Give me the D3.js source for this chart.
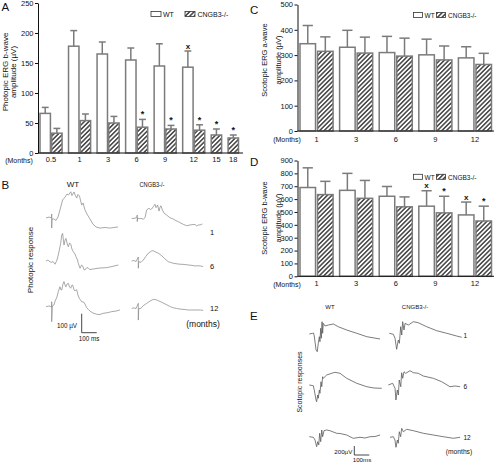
<!DOCTYPE html>
<html><head><meta charset="utf-8">
<script src="https://cdn.jsdelivr.net/npm/d3@7"></script>
<style>body{margin:0;background:#fff}svg{display:block;font-family:"Liberation Sans",Arial,sans-serif}</style>
</head><body><svg id="c" width="495" height="463"></svg>
<script>
// ---------- DATA ----------
// Panel A: photopic ERG b-wave amplitude (µV)
const aMonths = ["0.5","1","3","6","9","12","15","18"];
const aWT      = [66, 178, 165, 155, 145, 143, null, null];
const aWTErr   = [76, 204, 185, 175, 182, 170, null, null];
const aKO      = [33, 54, 50, 43, 40, 38, 30, 25];
const aKOErr   = [41, 65, 61, 56, 46, 47, 40, 30];
const aWTMarks = ["", "", "", "", "", "x", "", ""];
const aKOMarks = ["", "", "", "*", "*", "*", "*", "*"];
const aTicks   = [0, 50, 100, 150, 200, 250];

// Panel C: scotopic ERG a-wave amplitude (µV)
const cMonths = ["1","3","6","9","12"];
const cWT     = [345, 331, 310, 301, 289];
const cWTErr  = [417, 398, 374, 363, 333];
const cKO     = [315, 308, 296, 281, 263];
const cKOErr  = [372, 371, 367, 336, 307];
const cWTMarks = ["", "", "", "", ""];
const cKOMarks = ["", "", "", "", ""];
const cTicks  = [0, 100, 200, 300, 400, 500];

// Panel D: scotopic ERG b-wave amplitude (µV)
const dMonths = ["1","3","6","9","12"];
const dWT     = [690, 668, 622, 545, 477];
const dWTErr  = [843, 800, 698, 665, 577];
const dKO     = [635, 606, 540, 493, 430];
const dKOErr  = [738, 745, 617, 622, 545];
const dWTMarks = ["", "", "", "x", "x"];
const dKOMarks = ["", "", "", "*", "*"];
const dTicks  = [0, 100, 200, 300, 400, 500, 600, 700, 800, 900];

// Panel B: photopic responses, [ms, µV]
const bRows = ["1", "6", "12"];
const bWT1 = [[0,0],[20,5],[37,0],[38,21],[38,-53],[40,-5],[53,-5],[67,-13],[80,5],[93,42],[111,95],[127,110],[140,126],[150,121],[165,138],[173,118],[187,137],[197,116],[205,105],[213,124],[223,116],[238,68],[247,79],[260,42],[273,21],[293,-5],[313,-32],[333,-47],[360,-53],[393,-50],[427,-53],[453,-50],[480,-47]];
const bWT6 = [[0,0],[13,5],[27,-5],[38,-7],[47,-3],[60,-17],[73,5],[82,32],[93,74],[98,93],[105,137],[111,145],[116,110],[120,84],[127,110],[133,119],[142,89],[149,75],[157,95],[165,88],[173,63],[182,49],[193,37],[200,23],[210,5],[215,-12],[227,-38],[237,-21],[245,-26],[253,-45],[260,-47],[273,-34],[282,-38],[293,-45],[315,-42],[340,-39],[360,-37],[405,-35],[440,-29],[482,-21]];
const bWT12 = [[0,0],[20,4],[38,-2],[38,26],[38,-79],[42,4],[53,9],[63,35],[71,46],[82,79],[88,93],[93,105],[100,88],[105,88],[113,119],[120,132],[127,114],[133,105],[140,119],[149,123],[157,104],[165,97],[171,112],[178,114],[187,88],[193,83],[200,90],[205,88],[213,62],[222,44],[230,35],[238,26],[247,25],[253,23],[263,9],[271,-5],[283,-15],[293,-23],[313,-33],[338,-40],[360,-41],[380,-35],[413,-31],[438,-26],[467,-23],[493,-17]];
const bKO1 = [[0,0],[15,-1],[33,4],[37,17],[37,-17],[39,2],[49,-2],[62,0],[77,-5],[89,4],[100,44],[115,53],[125,46],[133,49],[144,61],[155,74],[162,56],[173,70],[182,38],[189,59],[195,66],[204,44],[217,26],[233,17],[255,3],[277,-4],[295,-12],[311,-18],[344,-32],[367,-39],[389,-35],[409,-33],[422,-32],[433,-40],[445,-35],[456,-35],[471,-30]];
const bKO6 = [[0,0],[15,3],[29,-3],[44,21],[44,-38],[47,-3],[62,-7],[77,5],[93,23],[111,41],[122,47],[133,53],[144,54],[155,49],[177,41],[200,28],[222,11],[244,-4],[262,-8],[277,-12],[302,-15],[322,-17],[349,-18],[378,-21],[402,-23],[422,-26],[442,-25],[456,-26],[476,-29]];
const bKO12 = [[0,0],[15,2],[29,-1],[44,26],[44,-62],[47,-1],[62,0],[77,14],[100,26],[122,38],[144,47],[167,44],[182,38],[200,32],[222,23],[242,15],[259,8],[277,3],[299,-1],[322,-4],[349,-6],[378,-9],[402,-9],[429,-9],[456,-9],[476,-11]];

// Panel E: scotopic responses, [ms, µV]
const eWT1 = [[0,0],[23,16],[28,22],[33,-44],[45,-355],[53,-393],[60,-206],[67,-60],[71,-171],[76,127],[80,-95],[85,273],[89,16],[93,238],[105,178],[127,200],[160,222],[193,162],[249,89],[316,16],[383,-60],[472,-111]];
const eWT6 = [[0,0],[27,-16],[33,-111],[45,-333],[49,-371],[56,-222],[60,-295],[67,-111],[71,-184],[78,73],[83,-38],[89,184],[93,149],[116,222],[149,260],[171,282],[205,260],[249,149],[316,38],[383,-38],[431,-67],[483,-73]];
const eWT12 = [[0,0],[27,-13],[38,-73],[49,-222],[56,-111],[63,-184],[69,75],[76,-111],[83,149],[89,0],[98,133],[116,149],[138,133],[183,75],[205,71],[249,38],[293,-36],[338,-13],[371,-29],[405,0],[438,4],[472,38]];
const eKO1 = [[0,0],[27,-22],[38,-111],[49,-355],[60,-149],[67,-222],[76,147],[83,-38],[89,258],[98,73],[105,222],[127,184],[160,258],[193,235],[249,147],[316,58],[383,0],[449,-60],[483,-89]];
const eKO6 = [[0,0],[29,38],[45,-73],[51,-333],[60,-111],[67,-222],[73,111],[83,-38],[89,273],[96,149],[105,295],[116,260],[145,318],[167,273],[200,260],[233,200],[300,149],[356,73],[411,-38],[445,-22],[478,-38]];
const eKO12 = [[0,0],[22,13],[33,-60],[40,-222],[49,-60],[55,-133],[62,124],[71,13],[78,200],[89,124],[111,178],[155,147],[222,89],[289,51],[355,13],[422,-22],[467,0]];

// ---------- DRAWING ----------
const FONT = '"Liberation Sans", Arial, sans-serif';
const svg = d3.select("#c");
const defs = svg.append("defs");
const pat = defs.append("pattern").attr("id", "hatch").attr("patternUnits", "userSpaceOnUse")
  .attr("width", 3.2).attr("height", 3.2).attr("patternTransform", "rotate(45)");
pat.append("rect").attr("width", 3.2).attr("height", 3.2).attr("fill", "#fff");
pat.append("line").attr("x1", 1.6).attr("y1", 0).attr("x2", 1.6).attr("y2", 3.2)
  .attr("stroke", "#111").attr("stroke-width", 1.2);

function txt(x, y, s, size, anchor, extra) {
  const t = svg.append("text").attr("x", x).attr("y", y).text(s)
    .attr("font-size", size).attr("font-family", FONT).attr("fill", "#111")
    .attr("text-anchor", anchor || "start");
  if (extra) extra(t);
  return t;
}
function vtxt(x, y, s, size) {
  return svg.append("text").attr("transform", `translate(${x},${y}) rotate(-90)`)
    .attr("text-anchor", "middle").attr("font-size", size).attr("font-family", FONT)
    .attr("fill", "#111").text(s);
}

const BAR_STROKE = "#7b7b7b";

function groupedBars(cfg) {
  const g = svg.append("g");
  const y = d3.scaleLinear().domain([0, cfg.max]).range([cfg.yBottom, cfg.yTop]);
  let u = 0; const bars = []; const centers = [];
  cfg.cats.forEach((c, i) => {
    const start = u;
    const series = [];
    if (cfg.wt[i] != null) series.push({k: "wt", v: cfg.wt[i], e: cfg.wtErr[i], m: cfg.wtMarks[i]});
    series.push({k: "ko", v: cfg.ko[i], e: cfg.koErr[i], m: cfg.koMarks[i]});
    series.forEach((s, j) => {
      bars.push(Object.assign({}, s, {u0: u}));
      u += 1;
      if (j < series.length - 1) u += cfg.inner;
    });
    centers.push({c: c, u: (start + u) / 2});
    if (i < cfg.cats.length - 1) u += cfg.gap;
  });
  const x = d3.scaleLinear().domain([0, u]).range([cfg.x0, cfg.x1]);
  const bw = x(1) - x(0);

  // error bars
  const eg = g.append("g").attr("stroke", BAR_STROKE).attr("stroke-width", 1.5);
  bars.forEach(b => {
    const cx = x(b.u0 + 0.5);
    eg.append("line").attr("x1", cx).attr("x2", cx).attr("y1", y(b.v)).attr("y2", y(b.e));
    eg.append("line").attr("x1", cx - bw * 0.33).attr("x2", cx + bw * 0.33).attr("y1", y(b.e)).attr("y2", y(b.e));
  });
  // bars
  g.selectAll("rect.bar").data(bars).enter().append("rect")
    .attr("x", b => x(b.u0)).attr("y", b => y(b.v))
    .attr("width", bw).attr("height", b => y(0) - y(b.v))
    .attr("fill", b => b.k === "wt" ? "#fff" : "url(#hatch)")
    .attr("stroke", BAR_STROKE).attr("stroke-width", 1.5);
  // significance marks
  bars.filter(b => b.m).forEach(b => {
    const cx = x(b.u0 + 0.5);
    txt(cx, y(b.e) - (b.m === "*" ? 2 : 2.3), b.m, b.m === "*" ? 9 : 8, "middle", t => t.attr("font-weight", "bold"));
  });
  // y axis
  const ax = g.append("g").attr("transform", `translate(${cfg.axisX},0)`)
    .call(d3.axisLeft(y).tickValues(cfg.ticks).tickSize(3).tickSizeOuter(0).tickPadding(1.5));
  ax.attr("font-size", 7.5).attr("font-family", FONT);
  ax.selectAll("path,line").attr("stroke", "#111");
  ax.selectAll("text").attr("fill", "#111");
  // x axis line
  g.append("line").attr("x1", cfg.axisX).attr("x2", cfg.axisEnd)
    .attr("y1", y(0)).attr("y2", y(0)).attr("stroke", "#111").attr("stroke-width", 1);
  centers.forEach(c => txt(x(c.u), cfg.labelY, c.c, 7.5, "middle"));
  txt(cfg.monthsX, cfg.labelY + 0.6, "(Months)", 7, "middle");
  // titles
  vtxt(cfg.titleX1, cfg.titleY, cfg.title1, cfg.titleSize);
  vtxt(cfg.titleX2, cfg.titleY, cfg.title2, cfg.titleSize);
  // legend
  const L = cfg.legend;
  svg.append("rect").attr("x", L.x).attr("y", L.y).attr("width", L.w).attr("height", 5)
    .attr("fill", "#fff").attr("stroke", "#333").attr("stroke-width", 0.8);
  txt(L.x + L.w + 2, L.y + 5.2, "WT", L.fs);
  svg.append("rect").attr("x", L.x2).attr("y", L.y).attr("width", L.w).attr("height", 5)
    .attr("fill", "url(#hatch)").attr("stroke", "#333").attr("stroke-width", 0.8);
  txt(L.x2 + L.w + 2.5, L.y + 5.2, "CNGB3-/-", L.fs);
}

// Panel A
groupedBars({cats: aMonths, wt: aWT, wtErr: aWTErr, ko: aKO, koErr: aKOErr, wtMarks: aWTMarks, koMarks: aKOMarks,
  ticks: aTicks, max: 250, yBottom: 153, yTop: 3, axisX: 38, axisEnd: 243, x0: 40, x1: 238.5,
  inner: 0.12, gap: 0.62, labelY: 162.3, monthsX: 19,
  title1: "Photopic ERG b-wave", title2: "amplitude (\u00b5V)", titleX1: 7.5, titleX2: 15.5, titleY: 72, titleSize: 8,
  legend: {x: 151, y: 11.5, w: 10, x2: 185, fs: 7}});
// Panel C
groupedBars({cats: cMonths, wt: cWT, wtErr: cWTErr, ko: cKO, koErr: cKOErr, wtMarks: cWTMarks, koMarks: cKOMarks,
  ticks: cTicks, max: 500, yBottom: 131, yTop: 4.5, axisX: 297.5, axisEnd: 494, x0: 300, x1: 491.5,
  inner: 0.13, gap: 0.42, labelY: 141.8, monthsX: 287,
  title1: "Scotopic ERG a-wave", title2: "amplitude (\u00b5V)", titleX1: 267, titleX2: 281, titleY: 60, titleSize: 7.5,
  legend: {x: 413.5, y: 12.5, w: 9, x2: 436.5, fs: 6.5}});
// Panel D
groupedBars({cats: dMonths, wt: dWT, wtErr: dWTErr, ko: dKO, koErr: dKOErr, wtMarks: dWTMarks, koMarks: dKOMarks,
  ticks: dTicks, max: 900, yBottom: 276.3, yTop: 160.5, axisX: 297.5, axisEnd: 494, x0: 300, x1: 491.5,
  inner: 0.13, gap: 0.42, labelY: 286.3, monthsX: 287,
  title1: "Scotopic ERG b-wave", title2: "amplitude (\u00b5V)", titleX1: 267, titleX2: 281, titleY: 218, titleSize: 7.5,
  legend: {x: 413.5, y: 174.3, w: 9, x2: 436.5, fs: 6.5}});

// panel letters
txt(1.5, 10.5, "A", 11.5);
txt(1.5, 188.5, "B", 11.5);
txt(250, 13.5, "C", 11.5);
txt(250, 166, "D", 11.5);
txt(250, 320, "E", 11.5);

// Trace drawing
function drawTrace(data, x0, y0, pxPer100ms, pxPerUnitV, unitV, color, w) {
  const xs = d3.scaleLinear().domain([0, 100]).range([x0, x0 + pxPer100ms]);
  const ys = d3.scaleLinear().domain([0, unitV]).range([y0, y0 - pxPerUnitV]);
  svg.append("path").datum(data).attr("d", d3.line().x(d => xs(d[0])).y(d => ys(d[1])))
    .attr("fill", "none").attr("stroke", color).attr("stroke-width", w).attr("stroke-linejoin", "round");
  return {xs, ys};
}

// Panel B
const B_MS = 15, B_UV = 19; // px per 100 ms, px per 100 µV
const bWTs = [bWT1, bWT6, bWT12], bKOs = [bKO1, bKO6, bKO12];
const bWTBase = [218, 261, 306.7], bKOBase = [218.3, 261, 308.3];
bWTs.forEach((d, i) => drawTrace(d, 46, bWTBase[i], B_MS, B_UV, 100, "#8c8c8c", 0.75));
bKOs.forEach((d, i) => drawTrace(d, 131.7, bKOBase[i], B_MS, B_UV, 100, "#8c8c8c", 0.75));
txt(73, 187, "WT", 8, "middle");
txt(152, 187, "CNGB3-/-", 7, "middle", t => t.attr("textLength", 25).attr("lengthAdjust", "spacingAndGlyphs"));
const bLabY = [234.5, 268.5, 311];
bRows.forEach((r, i) => txt(210, bLabY[i], r, 7.5));
txt(203, 326.5, "(months)", 8.5, "middle");
vtxt(33, 260, "Photopic response", 8);
// B scale bar (100 µV, 100 ms)
{
  const sx = d3.scaleLinear().domain([0, 100]).range([81.7, 81.7 + B_MS]);
  const sy = d3.scaleLinear().domain([0, 100]).range([332.7, 332.7 - B_UV]);
  svg.append("path").attr("d", `M${sx(0)},${sy(100)}V${sy(0)}H${sx(100)}`)
    .attr("fill", "none").attr("stroke", "#333").attr("stroke-width", 0.9);
  txt(67, 327.5, "100 \u00b5V", 6.3, "middle");
  txt(89, 341.3, "100 ms", 6.3, "middle");
}

// Panel E
const E_MS = 15, E_UV = 9; // px per 100 ms, px per 200 µV
const eWTs = [eWT1, eWT6, eWT12], eKOs = [eKO1, eKO6, eKO12];
const eWTBase = [334, 385, 436.7], eKOBase = [333.3, 385, 437.3], eKOx = [389.3, 388.3, 390];
eWTs.forEach((d, i) => drawTrace(d, 309.3, eWTBase[i], E_MS, E_UV, 200, "#5a5a5a", 0.8));
eKOs.forEach((d, i) => drawTrace(d, eKOx[i], eKOBase[i], E_MS, E_UV, 200, "#5a5a5a", 0.8));
txt(330, 309, "WT", 6, "middle");
txt(415, 309, "CNGB3-/-", 6, "middle");
const eLabY = [337.5, 388.5, 439.5];
bRows.forEach((r, i) => txt(463.5, eLabY[i], r, 6.5));
txt(459, 454, "(months)", 6.7, "middle");
vtxt(302, 382, "Scotopic responses", 7);
{
  const sx = d3.scaleLinear().domain([0, 100]).range([354.3, 354.3 + E_MS]);
  const sy = d3.scaleLinear().domain([0, 200]).range([455, 455 - E_UV]);
  svg.append("path").attr("d", `M${sx(0)},${sy(200)}V${sy(0)}H${sx(100)}`)
    .attr("fill", "none").attr("stroke", "#333").attr("stroke-width", 0.9);
  txt(343.3, 454, "200\u00b5V", 6.2, "middle");
  txt(362, 462.3, "100ms", 6.2, "middle");
}
</script></body></html>
